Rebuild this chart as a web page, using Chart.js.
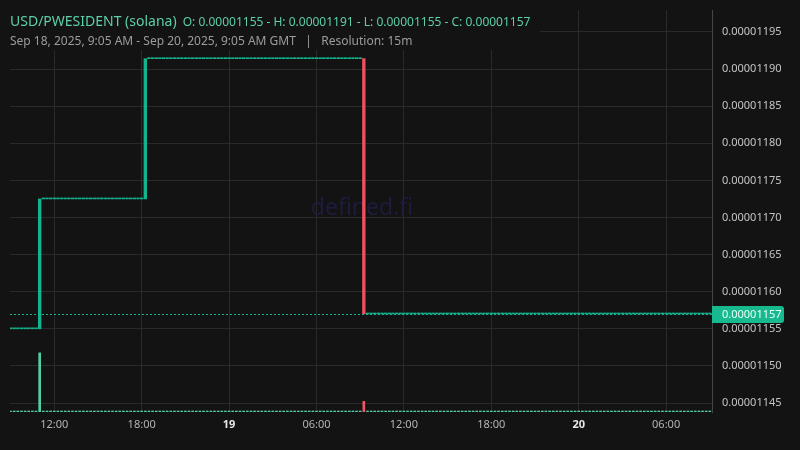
<!DOCTYPE html>
<html>
<head>
<meta charset="utf-8">
<title>USD/PWESIDENT (solana)</title>
<script src="https://cdn.jsdelivr.net/npm/chart.js@4.4.1/dist/chart.umd.min.js"></script>
<style>
    html, body { margin: 0; padding: 0; background: #131313; }
    #chart-wrap { width: 800px; height: 450px; position: relative; }
</style>
</head>
<body>
<div id="chart-wrap"><canvas id="price-chart"></canvas></div>
<script>
// 15m candles, Sep 18 2025 09:05 -> Sep 20 2025 09:05 (GMT), one entry per bar
const opens = [
    0.00001155, 0.00001155, 0.00001155, 0.00001155, 0.00001155, 0.00001155, 0.00001155, 0.00001155, 0.00001155,
    0.000011725, 0.000011725, 0.000011725, 0.000011725, 0.000011725, 0.000011725, 0.000011725, 0.000011725, 0.000011725, 0.000011725,
    0.000011725, 0.000011725, 0.000011725, 0.000011725, 0.000011725, 0.000011725, 0.000011725, 0.000011725, 0.000011725, 0.000011725,
    0.000011725, 0.000011725, 0.000011725, 0.000011725, 0.000011725, 0.000011725, 0.000011725, 0.000011725, 0.000011725,
    0.000011914, 0.000011914, 0.000011914, 0.000011914, 0.000011914, 0.000011914, 0.000011914, 0.000011914, 0.000011914, 0.000011914,
    0.000011914, 0.000011914, 0.000011914, 0.000011914, 0.000011914, 0.000011914, 0.000011914, 0.000011914, 0.000011914, 0.000011914,
    0.000011914, 0.000011914, 0.000011914, 0.000011914, 0.000011914, 0.000011914, 0.000011914, 0.000011914, 0.000011914, 0.000011914,
    0.000011914, 0.000011914, 0.000011914, 0.000011914, 0.000011914, 0.000011914, 0.000011914, 0.000011914, 0.000011914, 0.000011914,
    0.000011914, 0.000011914, 0.000011914, 0.000011914, 0.000011914, 0.000011914, 0.000011914, 0.000011914, 0.000011914, 0.000011914,
    0.000011914, 0.000011914, 0.000011914, 0.000011914, 0.000011914, 0.000011914, 0.000011914, 0.000011914, 0.000011914, 0.000011914,
    0.00001157, 0.00001157, 0.00001157, 0.00001157, 0.00001157, 0.00001157, 0.00001157, 0.00001157, 0.00001157, 0.00001157,
    0.00001157, 0.00001157, 0.00001157, 0.00001157, 0.00001157, 0.00001157, 0.00001157, 0.00001157, 0.00001157, 0.00001157,
    0.00001157, 0.00001157, 0.00001157, 0.00001157, 0.00001157, 0.00001157, 0.00001157, 0.00001157, 0.00001157, 0.00001157,
    0.00001157, 0.00001157, 0.00001157, 0.00001157, 0.00001157, 0.00001157, 0.00001157, 0.00001157, 0.00001157, 0.00001157,
    0.00001157, 0.00001157, 0.00001157, 0.00001157, 0.00001157, 0.00001157, 0.00001157, 0.00001157, 0.00001157, 0.00001157,
    0.00001157, 0.00001157, 0.00001157, 0.00001157, 0.00001157, 0.00001157, 0.00001157, 0.00001157, 0.00001157, 0.00001157,
    0.00001157, 0.00001157, 0.00001157, 0.00001157, 0.00001157, 0.00001157, 0.00001157, 0.00001157, 0.00001157, 0.00001157,
    0.00001157, 0.00001157, 0.00001157, 0.00001157, 0.00001157, 0.00001157, 0.00001157, 0.00001157, 0.00001157, 0.00001157,
    0.00001157, 0.00001157, 0.00001157, 0.00001157, 0.00001157, 0.00001157, 0.00001157, 0.00001157, 0.00001157, 0.00001157,
    0.00001157, 0.00001157, 0.00001157, 0.00001157, 0.00001157
];
const closes = [
    0.00001155, 0.00001155, 0.00001155, 0.00001155, 0.00001155, 0.00001155, 0.00001155, 0.00001155,
    0.000011725, 0.000011725, 0.000011725, 0.000011725, 0.000011725, 0.000011725, 0.000011725, 0.000011725, 0.000011725, 0.000011725,
    0.000011725, 0.000011725, 0.000011725, 0.000011725, 0.000011725, 0.000011725, 0.000011725, 0.000011725, 0.000011725, 0.000011725,
    0.000011725, 0.000011725, 0.000011725, 0.000011725, 0.000011725, 0.000011725, 0.000011725, 0.000011725, 0.000011725,
    0.000011914, 0.000011914, 0.000011914, 0.000011914, 0.000011914, 0.000011914, 0.000011914, 0.000011914, 0.000011914, 0.000011914,
    0.000011914, 0.000011914, 0.000011914, 0.000011914, 0.000011914, 0.000011914, 0.000011914, 0.000011914, 0.000011914, 0.000011914,
    0.000011914, 0.000011914, 0.000011914, 0.000011914, 0.000011914, 0.000011914, 0.000011914, 0.000011914, 0.000011914, 0.000011914,
    0.000011914, 0.000011914, 0.000011914, 0.000011914, 0.000011914, 0.000011914, 0.000011914, 0.000011914, 0.000011914, 0.000011914,
    0.000011914, 0.000011914, 0.000011914, 0.000011914, 0.000011914, 0.000011914, 0.000011914, 0.000011914, 0.000011914, 0.000011914,
    0.000011914, 0.000011914, 0.000011914, 0.000011914, 0.000011914, 0.000011914, 0.000011914, 0.000011914, 0.000011914, 0.000011914,
    0.00001157, 0.00001157, 0.00001157, 0.00001157, 0.00001157, 0.00001157, 0.00001157, 0.00001157, 0.00001157, 0.00001157,
    0.00001157, 0.00001157, 0.00001157, 0.00001157, 0.00001157, 0.00001157, 0.00001157, 0.00001157, 0.00001157, 0.00001157,
    0.00001157, 0.00001157, 0.00001157, 0.00001157, 0.00001157, 0.00001157, 0.00001157, 0.00001157, 0.00001157, 0.00001157,
    0.00001157, 0.00001157, 0.00001157, 0.00001157, 0.00001157, 0.00001157, 0.00001157, 0.00001157, 0.00001157, 0.00001157,
    0.00001157, 0.00001157, 0.00001157, 0.00001157, 0.00001157, 0.00001157, 0.00001157, 0.00001157, 0.00001157, 0.00001157,
    0.00001157, 0.00001157, 0.00001157, 0.00001157, 0.00001157, 0.00001157, 0.00001157, 0.00001157, 0.00001157, 0.00001157,
    0.00001157, 0.00001157, 0.00001157, 0.00001157, 0.00001157, 0.00001157, 0.00001157, 0.00001157, 0.00001157, 0.00001157,
    0.00001157, 0.00001157, 0.00001157, 0.00001157, 0.00001157, 0.00001157, 0.00001157, 0.00001157, 0.00001157, 0.00001157,
    0.00001157, 0.00001157, 0.00001157, 0.00001157, 0.00001157, 0.00001157, 0.00001157, 0.00001157, 0.00001157, 0.00001157,
    0.00001157, 0.00001157, 0.00001157, 0.00001157, 0.00001157, 0.00001157
];
// volume per bar (relative units)
const volumes = [
    1, 1, 1, 1, 1, 1, 1, 1, 100, 1, 1, 1, 1, 1, 1, 1, 1, 1, 1, 1,
    1, 1, 1, 1, 1, 1, 1, 1, 1, 1, 1, 1, 1, 1, 1, 1, 1, 1, 1, 1,
    1, 1, 1, 1, 1, 1, 1, 1, 1, 1, 1, 1, 1, 1, 1, 1, 1, 1, 1, 1,
    1, 1, 1, 1, 1, 1, 1, 1, 1, 1, 1, 1, 1, 1, 1, 1, 1, 1, 1, 1,
    1, 1, 1, 1, 1, 1, 1, 1, 1, 1, 1, 1, 1, 1, 1, 1, 1, 18, 1, 1,
    1, 1, 1, 1, 1, 1, 1, 1, 1, 1, 1, 1, 1, 1, 1, 1, 1, 1, 1, 1,
    1, 1, 1, 1, 1, 1, 1, 1, 1, 1, 1, 1, 1, 1, 1, 1, 1, 1, 1, 1,
    1, 1, 1, 1, 1, 1, 1, 1, 1, 1, 1, 1, 1, 1, 1, 1, 1, 1, 1, 1,
    1, 1, 1, 1, 1, 1, 1, 1, 1, 1, 1, 1, 1, 1, 1, 1, 1, 1, 1, 1,
    1, 1, 1, 1, 1, 1, 1, 1, 1, 1, 1, 1, 1
];

// time axis: bar index of each labelled tick and its text
const xTickIndex = [12, 36, 60, 84, 108, 132, 156, 180];
const xTickLabels = ['12:00', '18:00', '19', '06:00', '12:00', '18:00', '20', '06:00'];
const dayTicks = ['19', '20'];

const priceTicks = [0.00001145, 0.0000115, 0.00001155, 0.0000116, 0.00001165, 0.0000117,
    0.00001175, 0.0000118, 0.00001185, 0.0000119, 0.00001195];

const headerTitle = 'USD/PWESIDENT (solana)';
const headerOhlc = 'O: 0.00001155 - H: 0.00001191 - L: 0.00001155 - C: 0.00001157';
const headerSub = 'Sep 18, 2025, 9:05 AM - Sep 20, 2025, 9:05 AM GMT   |   Resolution: 15m';

const BG = '#131313';
const GRID = '#2a2a2a';
const UP = '#14b38f';
const DOWN = '#ef4f5f';
const UP_VOL = '#53cda8';
const DOWN_VOL = '#ef5767';
const FONT = '"Noto Sans", "Open Sans", sans-serif';

document.addEventListener('DOMContentLoaded', function() {
    const isDown = i => closes[i] < opens[i];

    const candleData = opens.map((o, i) => ({ x: i, y: [o, closes[i]] }));
    const volumeData = volumes.map((v, i) => ({ x: i, y: v }));

    const backgroundPlugin = {
        id: 'background',
        beforeDraw(chart) {
            const c = chart.ctx;
            c.save();
            c.fillStyle = BG;
            c.fillRect(0, 0, chart.width, chart.height);
            c.restore();
        }
    };

    const watermarkPlugin = {
        id: 'watermark',
        beforeDatasetsDraw(chart) {
            const c = chart.ctx;
            c.save();
            c.font = '23px ' + FONT;
            c.fillStyle = '#1e1c3c';
            c.textAlign = 'center';
            c.textBaseline = 'alphabetic';
            c.fillText('defined.fi', 362, 215);
            c.restore();
        }
    };

    // last price dotted line + tag on the price axis, then the header box
    const overlayPlugin = {
        id: 'overlay',
        afterDatasetsDraw(chart) {
            const c = chart.ctx;
            const area = chart.chartArea;
            const last = closes[closes.length - 1];
            const y = Math.round(chart.scales.y.getPixelForValue(last)) + 0.5;

            c.save();
            c.strokeStyle = UP;
            c.lineWidth = 1;
            c.setLineDash([2, 2]);
            c.beginPath();
            c.moveTo(area.left, y);
            c.lineTo(area.right, y);
            c.stroke();
            c.setLineDash([]);

            c.fillStyle = '#18b98f';
            c.beginPath();
            c.roundRect(area.right, y - 8.5, 72, 17, [0, 3, 3, 0]);
            c.fill();
            c.font = '11px ' + FONT;
            c.fillStyle = '#e9fff7';
            c.textBaseline = 'middle';
            c.textAlign = 'left';
            c.fillText(last.toFixed(8), area.right + 10, y + 0.5);
            c.restore();
        },
        afterDraw(chart) {
            const c = chart.ctx;
            c.save();
            c.fillStyle = BG;
            c.fillRect(0, 0, 540, 50);
            c.textBaseline = 'alphabetic';
            c.textAlign = 'left';
            c.fillStyle = '#5ccfab';
            c.font = '14px ' + FONT;
            c.fillText(headerTitle, 10, 26);
            const w = c.measureText(headerTitle).width;
            c.font = '12px ' + FONT;
            c.fillText(headerOhlc, 10 + w + 6, 26);
            c.fillStyle = '#9c9c9c';
            c.font = '12px ' + FONT;
            c.fillText(headerSub, 10, 45);
            c.restore();
        }
    };

    const ctx = document.getElementById('price-chart').getContext('2d');
    const priceChart = new Chart(ctx, {
        type: 'bar',
        data: {
            datasets: [{
                label: 'Price',
                data: candleData,
                yAxisID: 'y',
                backgroundColor: candleData.map((d, i) => isDown(i) ? DOWN : UP),
                barThickness: 2.7,
                minBarLength: 1,
                grouped: false,
                borderWidth: 0,
                order: 0
            }, {
                label: 'Volume',
                data: volumeData,
                yAxisID: 'vol',
                backgroundColor: volumeData.map((d, i) => isDown(i) ? DOWN_VOL : UP_VOL),
                barThickness: 2,
                minBarLength: 1,
                grouped: false,
                borderWidth: 0,
                order: 1
            }]
        },
        options: {
            responsive: true,
            maintainAspectRatio: false,
            animation: false,
            layout: { padding: { left: 10, top: 10, right: 0, bottom: 0 } },
            plugins: {
                legend: { display: false },
                tooltip: { enabled: false }
            },
            scales: {
                x: {
                    type: 'linear',
                    offset: false,
                    min: -0.15,
                    max: 192.6,
                    afterBuildTicks: axis => { axis.ticks = xTickIndex.map(v => ({ value: v })); },
                    afterFit: axis => { axis.height = 38; },
                    ticks: {
                        autoSkip: false,
                        maxRotation: 0,
                        padding: 6,
                        callback: value => xTickLabels[xTickIndex.indexOf(value)],
                        color: c => dayTicks.includes(xTickLabels[c.index]) ? '#e6e6e6' : '#b4b4b4',
                        font: c => ({
                            family: FONT,
                            size: 11,
                            weight: dayTicks.includes(xTickLabels[c.index]) ? 'bold' : 'normal'
                        })
                    },
                    grid: { color: GRID, drawTicks: false, offset: false },
                    border: { display: false }
                },
                y: {
                    position: 'right',
                    min: 0.0000114379,
                    max: 0.0000119796,
                    afterBuildTicks: axis => { axis.ticks = priceTicks.map(v => ({ value: v })); },
                    afterFit: axis => {
                        axis.width = 88;
                        axis.paddingTop = 0;
                        axis.paddingBottom = 0;
                    },
                    ticks: {
                        padding: 10,
                        color: '#c4c4c4',
                        font: { family: FONT, size: 11 },
                        callback: value => value.toFixed(8)
                    },
                    grid: { color: GRID, drawTicks: false },
                    border: { display: true, color: '#454545' }
                },
                vol: {
                    display: false,
                    min: 0,
                    max: 680
                }
            }
        },
        plugins: [backgroundPlugin, watermarkPlugin, overlayPlugin]
    });
});
</script>
</body>
</html>
